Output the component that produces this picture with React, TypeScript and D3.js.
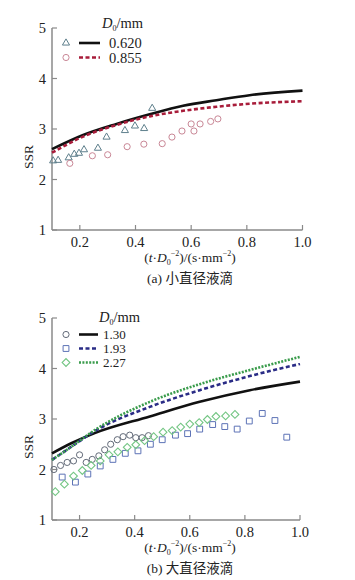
import React from "react";
import * as d3 from "d3";

// ---------- Data: panel (a) small droplets ----------
const aLegend = ["0.620", "0.855"];
const aTriX = [0.104, 0.122, 0.16, 0.18, 0.197, 0.215, 0.265, 0.296, 0.362, 0.398, 0.431, 0.46];
const aTriY = [2.37, 2.38, 2.43, 2.5, 2.52, 2.59, 2.62, 2.84, 2.97, 3.06, 3.01, 3.41];
const aCirX = [0.164, 0.245, 0.3, 0.37, 0.43, 0.496, 0.531, 0.567, 0.6, 0.61, 0.632, 0.67, 0.696];
const aCirY = [2.32, 2.47, 2.49, 2.65, 2.7, 2.71, 2.84, 2.96, 3.1, 2.96, 3.1, 3.15, 3.2];
const aFitX = [0.1, 0.212, 0.332, 0.451, 0.571, 0.691, 0.81, 1.0];
const aFit620 = [2.6, 2.88, 3.1, 3.29, 3.46, 3.57, 3.67, 3.76];
const aFit855 = [2.53, 2.85, 3.08, 3.25, 3.36, 3.44, 3.5, 3.55];

// ---------- Data: panel (b) large droplets ----------
const bLegend = ["1.30", "1.93", "2.27"];
const bCirX = [0.107, 0.131, 0.155, 0.178, 0.2, 0.224, 0.246, 0.27, 0.291, 0.313, 0.337, 0.358, 0.382, 0.404, 0.427, 0.45];
const bCirY = [2.0, 2.08, 2.14, 2.17, 2.29, 2.14, 2.2, 2.27, 2.39, 2.5, 2.59, 2.65, 2.68, 2.63, 2.63, 2.67];
const bSqX = [0.137, 0.185, 0.23, 0.275, 0.321, 0.366, 0.412, 0.457, 0.5, 0.548, 0.592, 0.636, 0.683, 0.727, 0.772, 0.816, 0.863, 0.909, 0.952];
const bSqY = [1.85, 1.75, 1.91, 2.07, 2.2, 2.32, 2.37, 2.5, 2.59, 2.68, 2.71, 2.8, 2.89, 2.85, 2.8, 2.96, 3.11, 2.97, 2.64];
const bDiaX = [0.112, 0.145, 0.178, 0.21, 0.242, 0.275, 0.307, 0.339, 0.373, 0.404, 0.436, 0.469, 0.503, 0.536, 0.567, 0.6, 0.634, 0.664, 0.695, 0.73, 0.764];
const bDiaY = [1.56, 1.71, 1.87, 1.98, 2.08, 2.17, 2.29, 2.35, 2.44, 2.49, 2.57, 2.65, 2.74, 2.77, 2.84, 2.9, 2.93, 2.99, 3.05, 3.06, 3.09];
const bFitX = [0.1, 0.17, 0.255, 0.455, 0.636, 0.818, 1.0];
const bFit130 = [2.32, 2.52, 2.72, 3.05, 3.34, 3.57, 3.74];
const bFit193 = [2.19, 2.45, 2.76, 3.24, 3.57, 3.85, 4.09];
const bFit227 = [2.19, 2.45, 2.78, 3.34, 3.69, 3.97, 4.23];

const xTicks = [0.2, 0.4, 0.6, 0.8, 1.0];
const yTicks = [1, 2, 3, 4, 5];

const FONT = "Liberation Serif, Noto Sans CJK SC, serif";
const AXIS = "#8a8a8a";
const TXT = { fontFamily: FONT };

type Pt = [number, number];
const zip = (xs: number[], ys: number[]): Pt[] => xs.map((x, i) => [x, ys[i]]);

function Axes({ x, y }: { x: d3.ScaleLinear<number, number>; y: d3.ScaleLinear<number, number> }) {
  const [x0, x1] = x.range();
  const [yb, yt] = y.range();
  return (
    <g>
      <line x1={x0} x2={x0} y1={yt} y2={yb} stroke={AXIS} strokeWidth={1.5} />
      <line x1={x0} x2={x1} y1={yb} y2={yb} stroke={AXIS} strokeWidth={1.5} />
      {yTicks.map((t) => (
        <g key={"y" + t}>
          <line x1={x0} x2={x0 + 5} y1={y(t)} y2={y(t)} stroke={AXIS} strokeWidth={1.2} />
          <text x={x0 - 6} y={y(t) + 5} textAnchor="end" fontSize={14.5} style={TXT} fill="#222">{t}</text>
        </g>
      ))}
      {xTicks.map((t) => (
        <g key={"x" + t}>
          <line x1={x(t)} x2={x(t)} y1={yb} y2={yb - 5} stroke={AXIS} strokeWidth={1.2} />
          <text x={x(t)} y={yb + 17} textAnchor="middle" fontSize={14.5} style={TXT} fill="#222">{t.toFixed(1)}</text>
        </g>
      ))}
      <text transform={`translate(33,${(yb + yt) / 2 + 28}) rotate(-90)`} textAnchor="middle" fontSize={13.5} style={TXT} fill="#222">SSR</text>
    </g>
  );
}

function XLabel({ cx, y }: { cx: number; y: number }) {
  return (
    <text x={cx} y={y} textAnchor="middle" fontSize={13.5} style={TXT} fill="#222">
      (<tspan fontStyle="italic">t</tspan>·<tspan fontStyle="italic">D</tspan>
      <tspan fontSize={8} dy={3}>0</tspan>
      <tspan fontSize={8} dy={-9}>−2</tspan>
      <tspan dy={6}>)/(s·mm</tspan>
      <tspan fontSize={8} dy={-6}>−2</tspan>
      <tspan dy={6}>)</tspan>
    </text>
  );
}

function LegendTitle({ x, y }: { x: number; y: number }) {
  return (
    <text x={x} y={y} fontSize={14.5} style={TXT} fill="#222">
      <tspan fontStyle="italic">D</tspan>
      <tspan fontSize={8} dy={3}>0</tspan>
      <tspan dy={-3}>/mm</tspan>
    </text>
  );
}

const tri = d3.symbol().type(d3.symbolTriangle).size(22)()!;
const circ = d3.symbol().type(d3.symbolCircle).size(30)()!;
const sq = d3.symbol().type(d3.symbolSquare).size(34)()!;
const dia = d3.symbol().type(d3.symbolSquare).size(30)()!;

export default function App() {
  // Panel (a)
  const xa = d3.scaleLinear().domain([0.1, 1.0]).range([52, 302.5]);
  const ya = d3.scaleLinear().domain([1, 5]).range([230, 28]);
  const la = d3.line<Pt>().x((d) => xa(d[0])).y((d) => ya(d[1])).curve(d3.curveMonotoneX);

  // Panel (b)
  const xb = d3.scaleLinear().domain([0.1, 1.0]).range([52, 300]);
  const yb = d3.scaleLinear().domain([1, 5]).range([520, 318]);
  const lb = d3.line<Pt>().x((d) => xb(d[0])).y((d) => yb(d[1])).curve(d3.curveMonotoneX);

  const cTri = "#5e7f8c";
  const cCirA = "#c98796";
  const cRed = "#a81c3a";
  const cCirB = "#626a78";
  const cSq = "#5d73b6";
  const cDia = "#74c684";
  const cBlue = "#2a2c86";
  const cGreen = "#3a9c4c";

  return (
    <svg width={355} height={580} style={{ position: "absolute", left: 0, top: 0, background: "#fff" }}>
      {/* ---------- Panel (a) ---------- */}
      <Axes x={xa} y={ya} />
      {zip(aTriX, aTriY).map((d, i) => (
        <path key={"at" + i} d={tri} transform={`translate(${xa(d[0])},${ya(d[1])})`} fill="none" stroke={cTri} strokeWidth={1} />
      ))}
      {zip(aCirX, aCirY).map((d, i) => (
        <path key={"ac" + i} d={circ} transform={`translate(${xa(d[0])},${ya(d[1])})`} fill="none" stroke={cCirA} strokeWidth={1} />
      ))}
      <path d={la(zip(aFitX, aFit620))!} fill="none" stroke="#111" strokeWidth={2.6} />
      <path d={la(zip(aFitX, aFit855))!} fill="none" stroke={cRed} strokeWidth={2.6} strokeDasharray="4 2.5" />
      {/* legend (a) */}
      <LegendTitle x={102} y={28} />
      <path d={tri} transform="translate(66,43)" fill="none" stroke={cTri} strokeWidth={1} />
      <line x1={79} x2={100} y1={43} y2={43} stroke="#111" strokeWidth={2.6} />
      <text x={109} y={48} fontSize={14.5} style={TXT} fill="#222">{aLegend[0]}</text>
      <path d={circ} transform="translate(66,57.5)" fill="none" stroke={cCirA} strokeWidth={1} />
      <line x1={79} x2={100} y1={57.5} y2={57.5} stroke={cRed} strokeWidth={2.6} strokeDasharray="4 2.5" />
      <text x={109} y={62.5} fontSize={14.5} style={TXT} fill="#222">{aLegend[1]}</text>
      <XLabel cx={190} y={262} />
      <text x={190} y={283} textAnchor="middle" fontSize={13.5} style={TXT} fill="#222">(a) 小直径液滴</text>

      {/* ---------- Panel (b) ---------- */}
      <Axes x={xb} y={yb} />
      {zip(bCirX, bCirY).map((d, i) => (
        <path key={"bc" + i} d={circ} transform={`translate(${xb(d[0])},${yb(d[1])})`} fill="none" stroke={cCirB} strokeWidth={1} />
      ))}
      {zip(bSqX, bSqY).map((d, i) => (
        <path key={"bs" + i} d={sq} transform={`translate(${xb(d[0])},${yb(d[1])})`} fill="none" stroke={cSq} strokeWidth={1} />
      ))}
      {zip(bDiaX, bDiaY).map((d, i) => (
        <path key={"bd" + i} d={dia} transform={`translate(${xb(d[0])},${yb(d[1])}) rotate(45)`} fill="none" stroke={cDia} strokeWidth={1.1} />
      ))}
      <path d={lb(zip(bFitX, bFit130))!} fill="none" stroke="#111" strokeWidth={2.6} />
      <path d={lb(zip(bFitX, bFit193))!} fill="none" stroke={cBlue} strokeWidth={2.6} strokeDasharray="4 2.5" />
      <path d={lb(zip(bFitX, bFit227))!} fill="none" stroke={cGreen} strokeWidth={2.6} strokeDasharray="2 1.4" />
      {/* legend (b) */}
      <LegendTitle x={99} y={322} />
      <path d={circ} transform="translate(66,334.5)" fill="none" stroke={cCirB} strokeWidth={1} />
      <line x1={79} x2={98} y1={334.5} y2={334.5} stroke="#111" strokeWidth={2.6} />
      <text x={103} y={339} fontSize={13} style={TXT} fill="#222">{bLegend[0]}</text>
      <path d={sq} transform="translate(66,348.5)" fill="none" stroke={cSq} strokeWidth={1} />
      <line x1={79} x2={98} y1={348.5} y2={348.5} stroke={cBlue} strokeWidth={2.6} strokeDasharray="4 2.5" />
      <text x={103} y={353} fontSize={13} style={TXT} fill="#222">{bLegend[1]}</text>
      <path d={dia} transform="translate(66,362.5) rotate(45)" fill="none" stroke={cDia} strokeWidth={1.1} />
      <line x1={79} x2={98} y1={362.5} y2={362.5} stroke={cGreen} strokeWidth={2.6} strokeDasharray="2 1.4" />
      <text x={103} y={367} fontSize={13} style={TXT} fill="#222">{bLegend[2]}</text>
      <XLabel cx={190} y={552} />
      <text x={190} y={573} textAnchor="middle" fontSize={13.5} style={TXT} fill="#222">(b) 大直径液滴</text>
    </svg>
  );
}
